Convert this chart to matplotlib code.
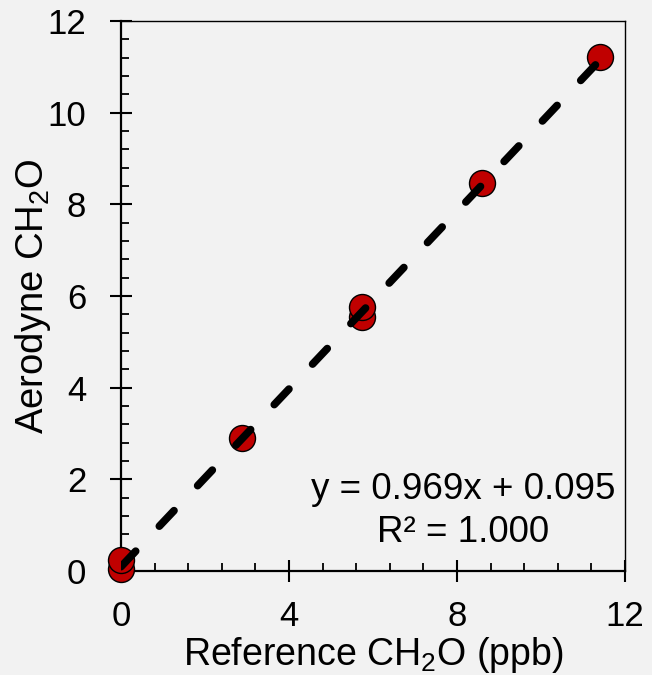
import matplotlib
matplotlib.use('Agg')
import matplotlib.pyplot as plt
import numpy as np
from matplotlib.ticker import MultipleLocator

plt.rcParams['font.family'] = ['Liberation Sans', 'DejaVu Sans']
plt.rcParams['mathtext.default'] = 'regular'

# donnees
ref_ch2o = [0.0, 0.0, 2.88, 5.74, 5.74, 8.6, 11.4]
aero_ch2o = [0.05, 0.25, 2.9, 5.55, 5.76, 8.47, 11.22]
pente = 0.969
ordonnee = 0.095
texte_fit = 'y = 0.969x + 0.095\nR² = 1.000'

fond = '#f2f2f2'
fig = plt.figure(figsize=(6.52, 6.75), dpi=100, facecolor=fond)
ax = fig.add_axes([0.1856, 0.154, 0.773, 0.815])
ax.set_facecolor(fond)

ax.scatter(ref_ch2o, aero_ch2o, s=350, c='#c00000', edgecolors='black',
           linewidths=1.0, zorder=3, clip_on=False)

xfit = np.array([0.0, max(ref_ch2o)])
ax.plot(xfit, pente*xfit+ordonnee, color='black', linewidth=5.5,
        dashes=(2.8, 4.5), dash_capstyle='round', zorder=4)

ax.text(8.14, 1.31, texte_fit, ha='center', va='center', multialignment='center',
        fontsize=26.5, linespacing=1.28)

ax.set_xlim(0, 12)
ax.set_ylim(0, 12)
ax.xaxis.set_major_locator(MultipleLocator(4))
ax.xaxis.set_minor_locator(MultipleLocator(0.8))
ax.yaxis.set_major_locator(MultipleLocator(2))
ax.yaxis.set_minor_locator(MultipleLocator(0.4))

ax.tick_params(which='major', direction='inout', length=16, width=1.5,
               labelsize=25)
ax.tick_params(axis='x', which='major', pad=13)
ax.tick_params(axis='y', which='major', pad=17)
ax.tick_params(which='minor', direction='in', length=6, width=1.3)

for cote in ['left', 'bottom']:
    ax.spines[cote].set_linewidth(1.6)
for cote in ['top', 'right']:
    ax.spines[cote].set_linewidth(1.0)

ax.set_xlabel('Reference CH$_2$O (ppb)', fontsize=27, labelpad=1.5)
ax.set_ylabel('Aerodyne CH$_2$O', fontsize=27.5, labelpad=-4)

fig.savefig('out.png', dpi=100, facecolor=fond)
